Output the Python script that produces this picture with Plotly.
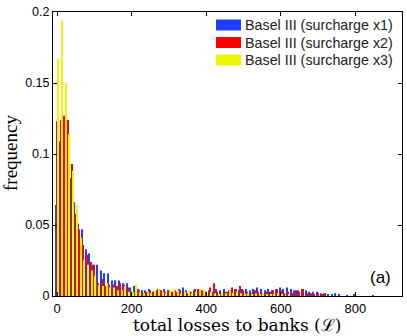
import plotly.graph_objects as go

# bin centres (total losses), bin width 10
bin_width = 10
n_bins = 89
losses = [bin_width * k for k in range(n_bins)]

series_names = ["Basel III (surcharge x1)", "Basel III (surcharge x2)", "Basel III (surcharge x3)"]
series_colors = ["#1f3fff", "#ff0000", "#eef500"]

freq_x1 = [
    0.064, 0.109, 0.087, 0.087, 0.083, 0.066, 0.051, 0.047, 0.033, 0.030,
    0.022, 0.022, 0.018, 0.016, 0.016, 0.011, 0.011, 0.011, 0.009, 0.009,
    0.006, 0.007, 0.005, 0.004, 0.004, 0.005, 0.003, 0.004, 0.004, 0.005,
    0.004, 0.003, 0.004, 0.005, 0.006, 0.004, 0.003, 0.004, 0.005, 0.004,
    0.003, 0.004, 0.003, 0.005, 0.004, 0.005, 0.003, 0.004, 0.005, 0.004,
    0.005, 0.005, 0.004, 0.005, 0.006, 0.005, 0.004, 0.005, 0.004, 0.005,
    0.006, 0.005, 0.006, 0.005, 0.004, 0.004, 0.005, 0.004, 0.003, 0.003,
    0.003, 0.002, 0.002, 0.001, 0.001, 0.002, 0.001, 0.0, 0.0005, 0.0,
    0.001, 0.0, 0.0, 0.0, 0.0, 0.0005, 0.0, 0.0, 0.0,
]
freq_x2 = [
    0.123, 0.124, 0.127, 0.124, 0.093, 0.058, 0.047, 0.036, 0.029, 0.024,
    0.022, 0.009, 0.012, 0.007, 0.008, 0.008, 0.007, 0.009, 0.008, 0.006,
    0.003, 0.004, 0.004, 0.002, 0.003, 0.004, 0.003, 0.005, 0.004, 0.003,
    0.004, 0.003, 0.003, 0.004, 0.003, 0.002, 0.003, 0.005, 0.005, 0.004,
    0.003, 0.006, 0.009, 0.003, 0.002, 0.003, 0.004, 0.006, 0.005, 0.007,
    0.004, 0.003, 0.002, 0.004, 0.003, 0.002, 0.003, 0.003, 0.004, 0.005,
    0.004, 0.002, 0.003, 0.002, 0.004, 0.003, 0.005, 0.002, 0.002, 0.001,
    0.002, 0.001, 0.002, 0.0, 0.0, 0.0, 0.0, 0.0, 0.0, 0.0,
    0.0, 0.0, 0.0, 0.0, 0.0, 0.0, 0.0, 0.0, 0.0,
]
freq_x3 = [
    0.167, 0.194, 0.150, 0.114, 0.088, 0.064, 0.041, 0.025, 0.022, 0.018,
    0.014, 0.008, 0.007, 0.009, 0.006, 0.006, 0.004, 0.004, 0.007, 0.003,
    0.003, 0.008, 0.003, 0.002, 0.003, 0.002, 0.004, 0.005, 0.003, 0.002,
    0.004, 0.005, 0.004, 0.002, 0.003, 0.004, 0.002, 0.003, 0.005, 0.004,
    0.002, 0.003, 0.002, 0.001, 0.003, 0.002, 0.004, 0.002, 0.003, 0.002,
    0.001, 0.002, 0.001, 0.002, 0.001, 0.002, 0.001, 0.001, 0.001, 0.002,
    0.001, 0.0, 0.001, 0.0, 0.0, 0.0, 0.0, 0.0, 0.0, 0.0,
    0.0, 0.0, 0.0, 0.0, 0.0, 0.0, 0.0, 0.0, 0.0, 0.0,
    0.0, 0.0, 0.0, 0.0, 0.0, 0.0, 0.0, 0.0, 0.0,
]

W, H = 407, 336
M_L, M_R, M_T, M_B = 53, 5, 12, 40


def px_to_paper(px, py):
    """pixel position in the page -> paper coords of the plot area"""
    x = (px - M_L) / (W - M_L - M_R)
    y = (H - M_B - py) / (H - M_T - M_B)
    return x, y


fig = go.Figure()
for name, color, freq in zip(series_names, series_colors, [freq_x1, freq_x2, freq_x3]):
    fig.add_trace(go.Bar(
        x=losses, y=freq, name=name, marker_color=color,
        marker_line_width=0, showlegend=False,
    ))

sans = "Liberation Sans, Arial, sans-serif"
serif = "Liberation Serif, DejaVu Serif, serif"

# hand-made legend (wide MATLAB-style swatches)
for i, (name, color) in enumerate(zip(series_names, series_colors)):
    cy = 25 + 17.5 * i
    x0, y0 = px_to_paper(216, cy + 5.5)
    x1, y1 = px_to_paper(241, cy - 5.5)
    fig.add_shape(type="rect", xref="paper", yref="paper",
                  x0=x0, x1=x1, y0=y0, y1=y1,
                  fillcolor=color, line=dict(color=color, width=0))
    tx, ty = px_to_paper(243, cy)
    fig.add_annotation(xref="paper", yref="paper", x=tx, y=ty, text=name,
                       showarrow=False, xanchor="left", yanchor="middle",
                       font=dict(family=sans, size=14.3, color="#222"))

ax, ay = px_to_paper(380, 277)
fig.add_annotation(xref="paper", yref="paper", x=ax, y=ay, text="(a)",
                   showarrow=False, xanchor="center", yanchor="middle",
                   font=dict(family=sans, size=17, color="black"))

# axis titles as annotations so they sit where the reference has them
tx, ty = px_to_paper(237, 325)
fig.add_annotation(xref="paper", yref="paper", x=tx, y=ty,
                   text="total losses to banks (ℒ)", showarrow=False,
                   xanchor="center", yanchor="middle",
                   font=dict(family="DejaVu Serif, serif", size=17, color="black"))
tx, ty = px_to_paper(10, 153)
fig.add_annotation(xref="paper", yref="paper", x=tx, y=ty,
                   text="frequency", showarrow=False, textangle=-90,
                   xanchor="center", yanchor="middle",
                   font=dict(family=serif, size=19, color="black"))

fig.update_layout(
    width=W, height=H,
    margin=dict(l=M_L, r=M_R, t=M_T, b=M_B, autoexpand=False),
    paper_bgcolor="white", plot_bgcolor="white",
    barmode="group", bargap=0.05, bargroupgap=0,
    showlegend=False,
)
fig.update_xaxes(
    range=[-11, 925], tickvals=[0, 200, 400, 600, 800],
    showline=True, linecolor="black", linewidth=1, mirror="ticks",
    ticks="inside", ticklen=4, tickcolor="black", automargin=False,
    showgrid=False, zeroline=False,
    tickfont=dict(family=sans, size=13, color="black"),
)
fig.update_yaxes(
    range=[0, 0.2], tickvals=[0, 0.05, 0.1, 0.15, 0.2],
    ticktext=["0", "0.05", "0.1", "0.15", "0.2"],
    showline=True, linecolor="black", linewidth=1, mirror="ticks",
    ticks="inside", ticklen=4, tickcolor="black", automargin=False,
    showgrid=False, zeroline=False,
    tickfont=dict(family=sans, size=12.5, color="black"),
)

# drop the browser's default 8px body margin so the figure fills the window
fig.write_html("out.html", config={"displayModeBar": False},
               post_script="document.body.style.margin='0';")
